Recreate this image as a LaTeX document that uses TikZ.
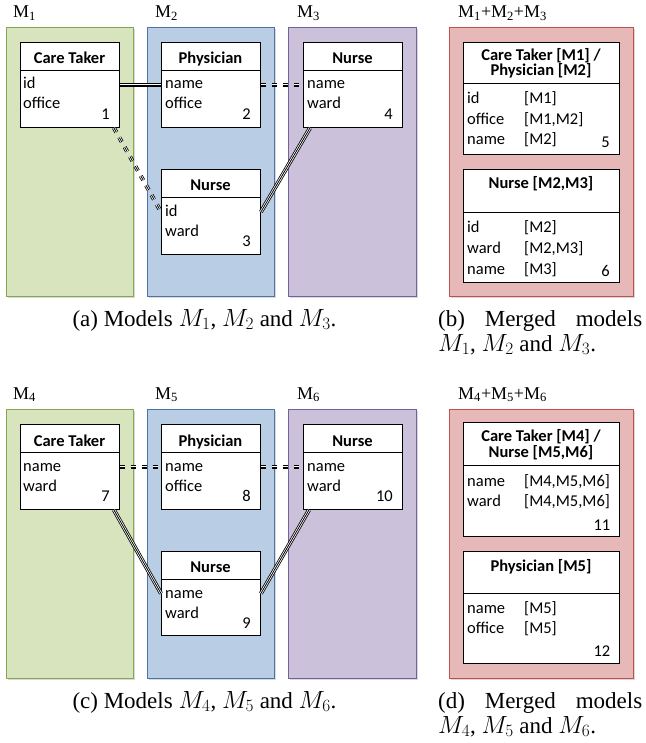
\documentclass[tikz,border=0pt]{standalone}
\usepackage{fontspec}
\setmainfont{Liberation Serif}
\newfontfamily\calfont{Carlito}
\usetikzlibrary{shadows,calc}
\definecolor{gfill}{HTML}{D7E4BD}
\definecolor{gdraw}{HTML}{86A84C}
\definecolor{bfill}{HTML}{B9CDE5}
\definecolor{bdraw}{HTML}{4A73A6}
\definecolor{vfill}{HTML}{CCC1DA}
\definecolor{vdraw}{HTML}{76609C}
\definecolor{rfill}{HTML}{E6B9B8}
\definecolor{rdraw}{HTML}{C0504D}
\begin{document}
\begin{tikzpicture}[x=1pt,y=-1pt,
  panel/.style={line width=1.2pt, inner sep=0pt, anchor=north west,
    drop shadow={shadow xshift=1.6pt, shadow yshift=-1.6pt, opacity=0.3}},
  pgreen/.style={panel, fill=gfill, draw=gdraw},
  pblue/.style={panel, fill=bfill, draw=bdraw},
  pviolet/.style={panel, fill=vfill, draw=vdraw},
  pred/.style={panel, fill=rfill, draw=rdraw},
  cls/.style={draw=black, fill=white, line width=0.9pt, inner sep=0pt, anchor=north west},
  hrule/.style={draw=black, line width=0.9pt},
  hdr/.style={font=\calfont\bfseries\fontsize{16.5}{20}\selectfont, inner sep=0pt, anchor=base},
  attr/.style={font=\calfont\fontsize{16.5}{20}\selectfont, inner sep=0pt, anchor=base west},
  numtxt/.style={font=\calfont\fontsize{16.5}{20}\selectfont, inner sep=0pt, anchor=base east},
  mlabel/.style={font=\fontsize{18}{20}\selectfont, inner sep=0pt, anchor=base west},
  captxt/.style={font=\fontsize{23}{25}\selectfont, inner sep=0pt},
  capmulti/.style={captxt, align=left, anchor=north west},
  tri/.style={line width=4pt, draw=black, #1,
    postaction={draw=white, line width=2.4pt, #1},
    postaction={draw=black, line width=0.8pt, #1}},
  tri/.default={solid},
  tridash/.style={tri={dash pattern=on 5pt off 6pt}}
]
\useasboundingbox (0,0) rectangle (645,743);

% ---------------- top row ----------------
\node[mlabel] (l1) at (13,18) {M\textsubscript{1}};
\node[mlabel] (l2) at (155,18) {M\textsubscript{2}};
\node[mlabel] (l3) at (297,18) {M\textsubscript{3}};
\node[mlabel] (l123) at (458,18) {M\textsubscript{1}+M\textsubscript{2}+M\textsubscript{3}};

\node[pgreen, minimum width=127, minimum height=269] (p1) at (6,27) {};
\node[pblue, minimum width=127, minimum height=269] (p2) at (147,27) {};
\node[pviolet, minimum width=128, minimum height=269] (p3) at (288,27) {};
\node[pred, minimum width=184, minimum height=269] (p123) at (449,27) {};

\node[cls, minimum width=99, minimum height=85] (ct1) at (20,42) {};
\draw[hrule] ([yshift=-28pt]ct1.north west) -- ([yshift=-28pt]ct1.north east);
\node[hdr] (ct1h) at (69.5,64) {Care Taker};
\node[attr] (ct1a) at (23,89) {id};
\node[attr] (ct1b) at (23,109) {office};
\node[numtxt] (ct1n) at (110,119.5) {1};

\node[cls, minimum width=99, minimum height=85] (ph2) at (161,42) {};
\draw[hrule] ([yshift=-28pt]ph2.north west) -- ([yshift=-28pt]ph2.north east);
\node[hdr] (ph2h) at (210.5,64) {Physician};
\node[attr] (ph2a) at (165,89) {name};
\node[attr] (ph2b) at (165,109) {office};
\node[numtxt] (ph2n) at (251,119.5) {2};

\node[cls, minimum width=99, minimum height=85] (nu4) at (303,42) {};
\draw[hrule] ([yshift=-28pt]nu4.north west) -- ([yshift=-28pt]nu4.north east);
\node[hdr] (nu4h) at (352.5,64) {Nurse};
\node[attr] (nu4a) at (307,89) {name};
\node[attr] (nu4b) at (307,109) {ward};
\node[numtxt] (nu4n) at (393,119.5) {4};

\node[cls, minimum width=99, minimum height=85] (nu3) at (161,169) {};
\draw[hrule] ([yshift=-28pt]nu3.north west) -- ([yshift=-28pt]nu3.north east);
\node[hdr] (nu3h) at (210.5,191) {Nurse};
\node[attr] (nu3a) at (165,216) {id};
\node[attr] (nu3b) at (165,236) {ward};
\node[numtxt] (nu3n) at (251,246.5) {3};

\node[cls, minimum width=156, minimum height=112] (mg5) at (463,42) {};
\draw[hrule] ([yshift=-41pt]mg5.north west) -- ([yshift=-41pt]mg5.north east);
\node[hdr] (mg5h) at (541,61) {Care Taker [M1] /};
\node[hdr] (mg5i) at (541,76) {Physician [M2]};
\node[attr] (mg5a) at (467,104) {id};
\node[attr] (mg5A) at (524,104) {[M1]};
\node[attr] (mg5b) at (467,124.5) {office};
\node[attr] (mg5B) at (524,124.5) {[M1,M2]};
\node[attr] (mg5c) at (467,145) {name};
\node[attr] (mg5C) at (524,145) {[M2]};
\node[numtxt] (mg5n) at (610,147.5) {5};

\node[cls, minimum width=156, minimum height=113] (mg6) at (463,169) {};
\draw[hrule] ([yshift=-43pt]mg6.north west) -- ([yshift=-43pt]mg6.north east);
\node[hdr] (mg6h) at (541,189) {Nurse [M2,M3]};
\node[attr] (mg6a) at (467,233) {id};
\node[attr] (mg6A) at (524,233) {[M2]};
\node[attr] (mg6b) at (467,253.5) {ward};
\node[attr] (mg6B) at (524,253.5) {[M2,M3]};
\node[attr] (mg6c) at (467,274) {name};
\node[attr] (mg6C) at (524,274) {[M3]};
\node[numtxt] (mg6n) at (610,276) {6};

\draw[tri] (ct1.east) -- (ph2.west);
\draw[tridash] (ph2.east) -- (nu4.west);
\draw[tridash] ([xshift=-6pt]ct1.south east) -- (nu3.west);
\draw[tri] (nu3.east) -- ([xshift=7pt]nu4.south west);

\node[captxt, anchor=base] (capa) at (204.5,326) {(a) Models $M_1$, $M_2$ and $M_3$.};
\node[capmulti] (capb) at (438,306) {\rule{0pt}{20pt}\makebox[204pt][l]{(b)\hfill Merged\hfill models}\\$M_1$, $M_2$ and $M_3$.};

% ---------------- bottom row ----------------
\node[mlabel] (l4) at (13,399) {M\textsubscript{4}};
\node[mlabel] (l5) at (155,399) {M\textsubscript{5}};
\node[mlabel] (l6) at (297,399) {M\textsubscript{6}};
\node[mlabel] (l456) at (458,399) {M\textsubscript{4}+M\textsubscript{5}+M\textsubscript{6}};

\node[pgreen, minimum width=127, minimum height=269] (p4) at (6,409) {};
\node[pblue, minimum width=127, minimum height=269] (p5) at (147,409) {};
\node[pviolet, minimum width=128, minimum height=269] (p6) at (288,409) {};
\node[pred, minimum width=184, minimum height=269] (p456) at (449,409) {};

\node[cls, minimum width=99, minimum height=85] (ct7) at (20,424) {};
\draw[hrule] ([yshift=-28pt]ct7.north west) -- ([yshift=-28pt]ct7.north east);
\node[hdr] (ct7h) at (69.5,446) {Care Taker};
\node[attr] (ct7a) at (23,471) {name};
\node[attr] (ct7b) at (23,491) {ward};
\node[numtxt] (ct7n) at (110,501) {7};

\node[cls, minimum width=99, minimum height=85] (ph8) at (161,424) {};
\draw[hrule] ([yshift=-28pt]ph8.north west) -- ([yshift=-28pt]ph8.north east);
\node[hdr] (ph8h) at (210.5,446) {Physician};
\node[attr] (ph8a) at (165,471) {name};
\node[attr] (ph8b) at (165,491) {office};
\node[numtxt] (ph8n) at (251,501) {8};

\node[cls, minimum width=99, minimum height=85] (nu10) at (303,424) {};
\draw[hrule] ([yshift=-28pt]nu10.north west) -- ([yshift=-28pt]nu10.north east);
\node[hdr] (nu10h) at (352.5,446) {Nurse};
\node[attr] (nu10a) at (307,471) {name};
\node[attr] (nu10b) at (307,491) {ward};
\node[numtxt] (nu10n) at (393,501) {10};

\node[cls, minimum width=99, minimum height=84] (nu9) at (161,551) {};
\draw[hrule] ([yshift=-28pt]nu9.north west) -- ([yshift=-28pt]nu9.north east);
\node[hdr] (nu9h) at (210.5,572.5) {Nurse};
\node[attr] (nu9a) at (165,598) {name};
\node[attr] (nu9b) at (165,618) {ward};
\node[numtxt] (nu9n) at (251,628.5) {9};

\node[cls, minimum width=156, minimum height=114] (mg11) at (463,422) {};
\draw[hrule] ([yshift=-43pt]mg11.north west) -- ([yshift=-43pt]mg11.north east);
\node[hdr] (mg11h) at (541,441) {Care Taker [M4] /};
\node[hdr] (mg11i) at (541,457) {Nurse [M5,M6]};
\node[attr] (mg11a) at (467,486) {name};
\node[attr] (mg11A) at (524,486) {[M4,M5,M6]};
\node[attr] (mg11b) at (467,506) {ward};
\node[attr] (mg11B) at (524,506) {[M4,M5,M6]};
\node[numtxt] (mg11n) at (610.5,530) {11};

\node[cls, minimum width=156, minimum height=112] (mg12) at (463,551) {};
\draw[hrule] ([yshift=-42.5pt]mg12.north west) -- ([yshift=-42.5pt]mg12.north east);
\node[hdr] (mg12h) at (541,571) {Physician [M5]};
\node[attr] (mg12a) at (467,613.5) {name};
\node[attr] (mg12A) at (524,613.5) {[M5]};
\node[attr] (mg12b) at (467,633.5) {office};
\node[attr] (mg12B) at (524,633.5) {[M5]};
\node[numtxt] (mg12n) at (610.5,656) {12};

\draw[tridash] (ct7.east) -- (ph8.west);
\draw[tridash] (ph8.east) -- (nu10.west);
\draw[tri] ([xshift=-6pt]ct7.south east) -- (nu9.west);
\draw[tri] (nu9.east) -- ([xshift=6pt]nu10.south west);

\node[captxt, anchor=base] (capc) at (204.5,708) {(c) Models $M_4$, $M_5$ and $M_6$.};
\node[capmulti] (capd) at (438,688) {\rule{0pt}{20pt}\makebox[204pt][l]{(d)\hfill Merged\hfill models}\\$M_4$, $M_5$ and $M_6$.};
\end{tikzpicture}
\end{document}
